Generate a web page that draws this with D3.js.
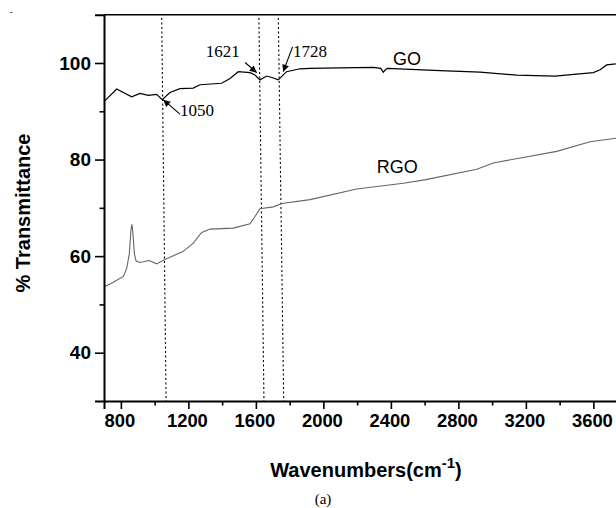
<!DOCTYPE html>
<html><head><meta charset="utf-8">
<script src="https://cdn.jsdelivr.net/npm/d3@7"></script>
<style>
html,body{margin:0;padding:0;background:#fff;}
svg{display:block;}
</style></head>
<body>
<svg id="chart" width="616" height="508"></svg>
<script>
// ---- data ----
const goWave = [700,775,864,913,962,1012,1045,1091,1150,1229,1269,1397,1447,1496,1565,1595,1624,1664,1695,1733,1782,1861,1921,2100,2296,2340,2355,2365,2379,2691,2928,3146,3373,3500,3600,3640,3679,3733];
const goT    = [92.0,94.6,93.0,93.7,93.3,93.5,92.4,93.9,94.7,94.8,95.5,95.8,96.8,98.2,98.0,97.5,96.5,97.3,97.0,96.5,98.2,98.8,98.9,99.0,99.1,98.9,98.1,98.5,98.9,98.4,98.1,97.5,97.3,97.7,98.0,98.6,99.6,99.8];

const rgoWave = [706,755,815,835,850,860,866,872,880,890,913,968,1012,1061,1170,1229,1279,1329,1466,1565,1595,1624,1703,1753,1921,2197,2474,2600,2909,3007,3383,3580,3734];
const rgoT    = [53.7,54.6,55.8,57.5,60.5,65.5,66.6,64.5,60.5,59.0,58.7,59.1,58.4,59.3,61.0,62.7,64.9,65.6,65.8,66.7,68.2,69.8,70.2,70.9,71.7,73.9,75.1,75.8,78.0,79.3,81.7,83.7,84.4];

const xMajorTicks = [800,1200,1600,2000,2400,2800,3200,3600];
const xMinorTicks = [1000,1400,1800,2200,2600,3000,3400];
const yMajorTicks = [40,60,80,100];
const yMinorTicks = [50,70,90];

// dotted marker lines (wavenumber at top / bottom of plot)
const markTop = [1042,1618,1733];
const markBottom = [1068,1648,1765];

// peak annotations
const annLabel = ["1050","1621","1728"];
const annTipW  = [1051,1605,1762];
const annTipT  = [92.4,98.0,98.2];
const annTailW = [1150,1536,1818];
const annTailT = [89.4,100.1,103.4];
const annTextW = [1150,1505,1820];
const annTextT = [89.0,101.2,101.2];
const annAnchor = ["start","end","start"];

const seriesLabels = [{name:"GO", w:2413, t:99.6},{name:"RGO", w:2316, t:77.3}];

// ---- layout ----
const svg = d3.select("#chart");
const mLeft = 104, mTop = 14.7, mBottom = 401;
const x = d3.scaleLinear().domain([700,4000]).range([mLeft, mLeft + 3300*0.16875]);
const y = d3.scaleLinear().domain([30,110]).range([mBottom, mTop]);

const defs = svg.append("defs");
defs.append("marker").attr("id","arr").attr("viewBox","0 0 10 10")
  .attr("refX",10).attr("refY",5).attr("markerWidth",9).attr("markerHeight",7)
  .attr("markerUnits","userSpaceOnUse").attr("orient","auto")
  .append("path").attr("d","M0,0 L10,5 L0,10 z").attr("fill","#000");

// small scan mark at top-left corner
svg.append("line").attr("x1",10).attr("x2",12.5).attr("y1",12.5).attr("y2",12.5)
  .attr("stroke","#555").attr("stroke-width",1);

// top frame
svg.append("line").attr("x1",x(700)).attr("x2",x(4000)).attr("y1",y(110)).attr("y2",y(110))
  .attr("stroke","#000").attr("stroke-width",1.6);

// dotted markers
svg.append("g").selectAll("line").data(markTop).join("line")
  .attr("x1",(d)=>x(d)).attr("y1",y(109.3))
  .attr("x2",(d,i)=>x(markBottom[i])).attr("y2",y(30))
  .attr("stroke","#000").attr("stroke-width",1.1).attr("stroke-dasharray","2,2.5");

// series
const line = d3.line().x(d=>x(d[0])).y(d=>y(d[1]));
svg.append("path").datum(rgoWave.map((w,i)=>[w,rgoT[i]])).attr("d",line)
  .attr("fill","none").attr("stroke","#666").attr("stroke-width",1.1);
svg.append("path").datum(goWave.map((w,i)=>[w,goT[i]])).attr("d",line)
  .attr("fill","none").attr("stroke","#000").attr("stroke-width",1.2);

// axes
const xAx = svg.append("g").attr("transform",`translate(0,${mBottom})`)
  .call(d3.axisBottom(x).tickValues(xMajorTicks).tickSize(8).tickPadding(5).tickFormat(d3.format("d")));
svg.append("g").attr("transform",`translate(0,${mBottom})`)
  .call(d3.axisBottom(x).tickValues(xMinorTicks).tickSize(4.5).tickFormat(""))
  .call(g=>g.select(".domain").remove());
svg.append("g").attr("transform",`translate(${mLeft},0)`)
  .call(d3.axisLeft(y).tickValues(yMajorTicks).tickSize(9).tickPadding(4));
svg.append("g").attr("transform",`translate(${mLeft},0)`)
  .call(d3.axisLeft(y).tickValues(yMinorTicks).tickSize(4.5).tickFormat(""))
  .call(g=>g.select(".domain").remove());
svg.selectAll(".domain").attr("stroke","#000").attr("stroke-width",2);
svg.selectAll(".tick line").attr("stroke","#000").attr("stroke-width",1.6);
svg.selectAll(".tick text").attr("font-family","Arial, 'Liberation Sans', sans-serif")
  .attr("font-weight","bold").attr("font-size",19).attr("fill","#000");
xAx.selectAll(".tick text").attr("font-size",18.4).attr("dx",-1.5);

// annotations
const ann = svg.append("g");
ann.selectAll("line").data(annLabel).join("line")
  .attr("x1",(d,i)=>x(annTailW[i])).attr("y1",(d,i)=>y(annTailT[i]))
  .attr("x2",(d,i)=>x(annTipW[i])).attr("y2",(d,i)=>y(annTipT[i]))
  .attr("stroke","#000").attr("stroke-width",1.1).attr("marker-end","url(#arr)");
ann.selectAll("text").data(annLabel).join("text")
  .attr("x",(d,i)=>x(annTextW[i])).attr("y",(d,i)=>y(annTextT[i]))
  .attr("text-anchor",(d,i)=>annAnchor[i])
  .attr("font-family","'Liberation Serif', 'Times New Roman', serif").attr("font-size",17)
  .text(d=>d);

svg.append("g").selectAll("text").data(seriesLabels).join("text")
  .attr("x",d=>x(d.w)).attr("y",d=>y(d.t))
  .attr("font-family","Arial, 'Liberation Sans', sans-serif").attr("font-size",18)
  .text(d=>d.name);

// axis titles
svg.append("text").attr("transform","translate(29.5,213) rotate(-90)")
  .attr("text-anchor","middle").attr("font-family","Arial, 'Liberation Sans', sans-serif")
  .attr("font-weight","bold").attr("font-size",20).text("% Transmittance");

const xt = svg.append("text").attr("x",366).attr("y",477).attr("text-anchor","middle")
  .attr("font-family","Arial, 'Liberation Sans', sans-serif").attr("font-weight","bold").attr("font-size",20);
xt.append("tspan").text("Wavenumbers(cm");
xt.append("tspan").attr("dy",-9).attr("font-size",15).text("-1");
xt.append("tspan").attr("dy",9).text(")");

svg.append("text").attr("x",323).attr("y",504).attr("text-anchor","middle")
  .attr("font-family","'Liberation Serif', 'Times New Roman', serif").attr("font-size",15).text("(a)");
</script>
</body></html>
